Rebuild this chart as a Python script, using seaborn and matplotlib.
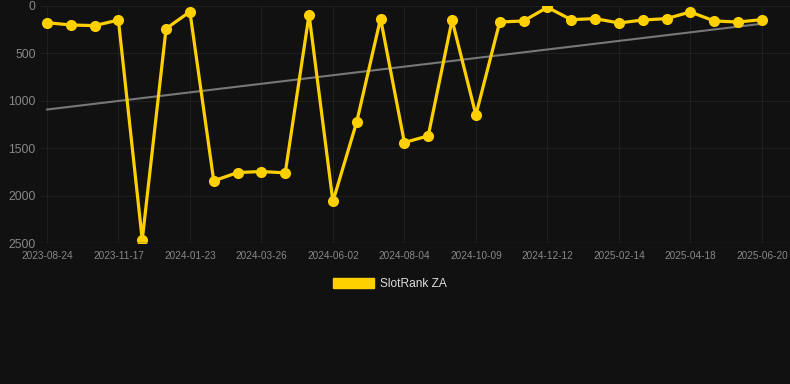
import numpy as np
import pandas as pd
import matplotlib
matplotlib.use("Agg")
import matplotlib.pyplot as plt
import seaborn as sns
from matplotlib.patches import Patch

# rank values, one per observation (lower = better, axis inverted)
ranks = [176, 200, 207, 148, 2466, 239, 60, 1844, 1757, 1746,
         1760, 91, 2062, 1222, 133, 1440, 1370, 148, 1149, 169,
         158, 14, 144, 133, 179, 148, 133, 63, 158, 169, 144]
tick_labels = ["2023-08-24", "2023-11-17", "2024-01-23", "2024-03-26",
               "2024-06-02", "2024-08-04", "2024-10-09", "2024-12-12",
               "2025-02-14", "2025-04-18", "2025-06-20"]
series_name = "SlotRank ZA"

df = pd.DataFrame({"idx": np.arange(len(ranks)), "rank": ranks})

# linear trend over the series
coef = np.polyfit(df["idx"], df["rank"], 1)
df["trend"] = np.polyval(coef, df["idx"])

sns.set_style("dark")
plt.rcParams["font.family"] = ["Liberation Sans", "DejaVu Sans"]

bg = "#111111"
gold = "#FFD000"
fig = plt.figure(figsize=(7.9, 3.84), dpi=100, facecolor=bg)
ax = fig.add_axes([40 / 790, (384 - 243) / 384, 750 / 790, 237 / 384])
ax.set_facecolor(bg)

sns.lineplot(data=df, x="idx", y="trend", ax=ax, color="#777777", linewidth=1.5)
sns.lineplot(data=df, x="idx", y="rank", ax=ax, color=gold, linewidth=2.3,
             marker="o", markersize=8, markeredgewidth=0)

ax.set_ylim(2500, 0)
ax.set_xlim(-0.29, 31.18)
ax.set_yticks([0, 500, 1000, 1500, 2000, 2500])
ax.set_xticks(np.arange(0, len(ranks), 3))
ax.set_xticklabels(tick_labels)
ax.tick_params(axis="y", colors="#888888", labelsize=8.8, length=0, pad=3)
ax.tick_params(axis="x", colors="#888888", labelsize=7.2, length=0, pad=6)
ax.grid(True, color="#1f1f1f", linewidth=0.8)
for s in ax.spines.values():
    s.set_visible(False)
ax.axhline(2500, color="#2a2a2a", linewidth=1)
ax.set_xlabel("")
ax.set_ylabel("")

handle = Patch(facecolor=gold, edgecolor=gold)
fig.legend([handle], [series_name], loc="center", bbox_to_anchor=(390 / 790, 1 - 284 / 384),
           frameon=False, labelcolor="#dddddd", fontsize=8.6, handlelength=3.4,
           handleheight=0.9, handletextpad=0.5)

fig.savefig("out.png", dpi=100, facecolor=bg)
